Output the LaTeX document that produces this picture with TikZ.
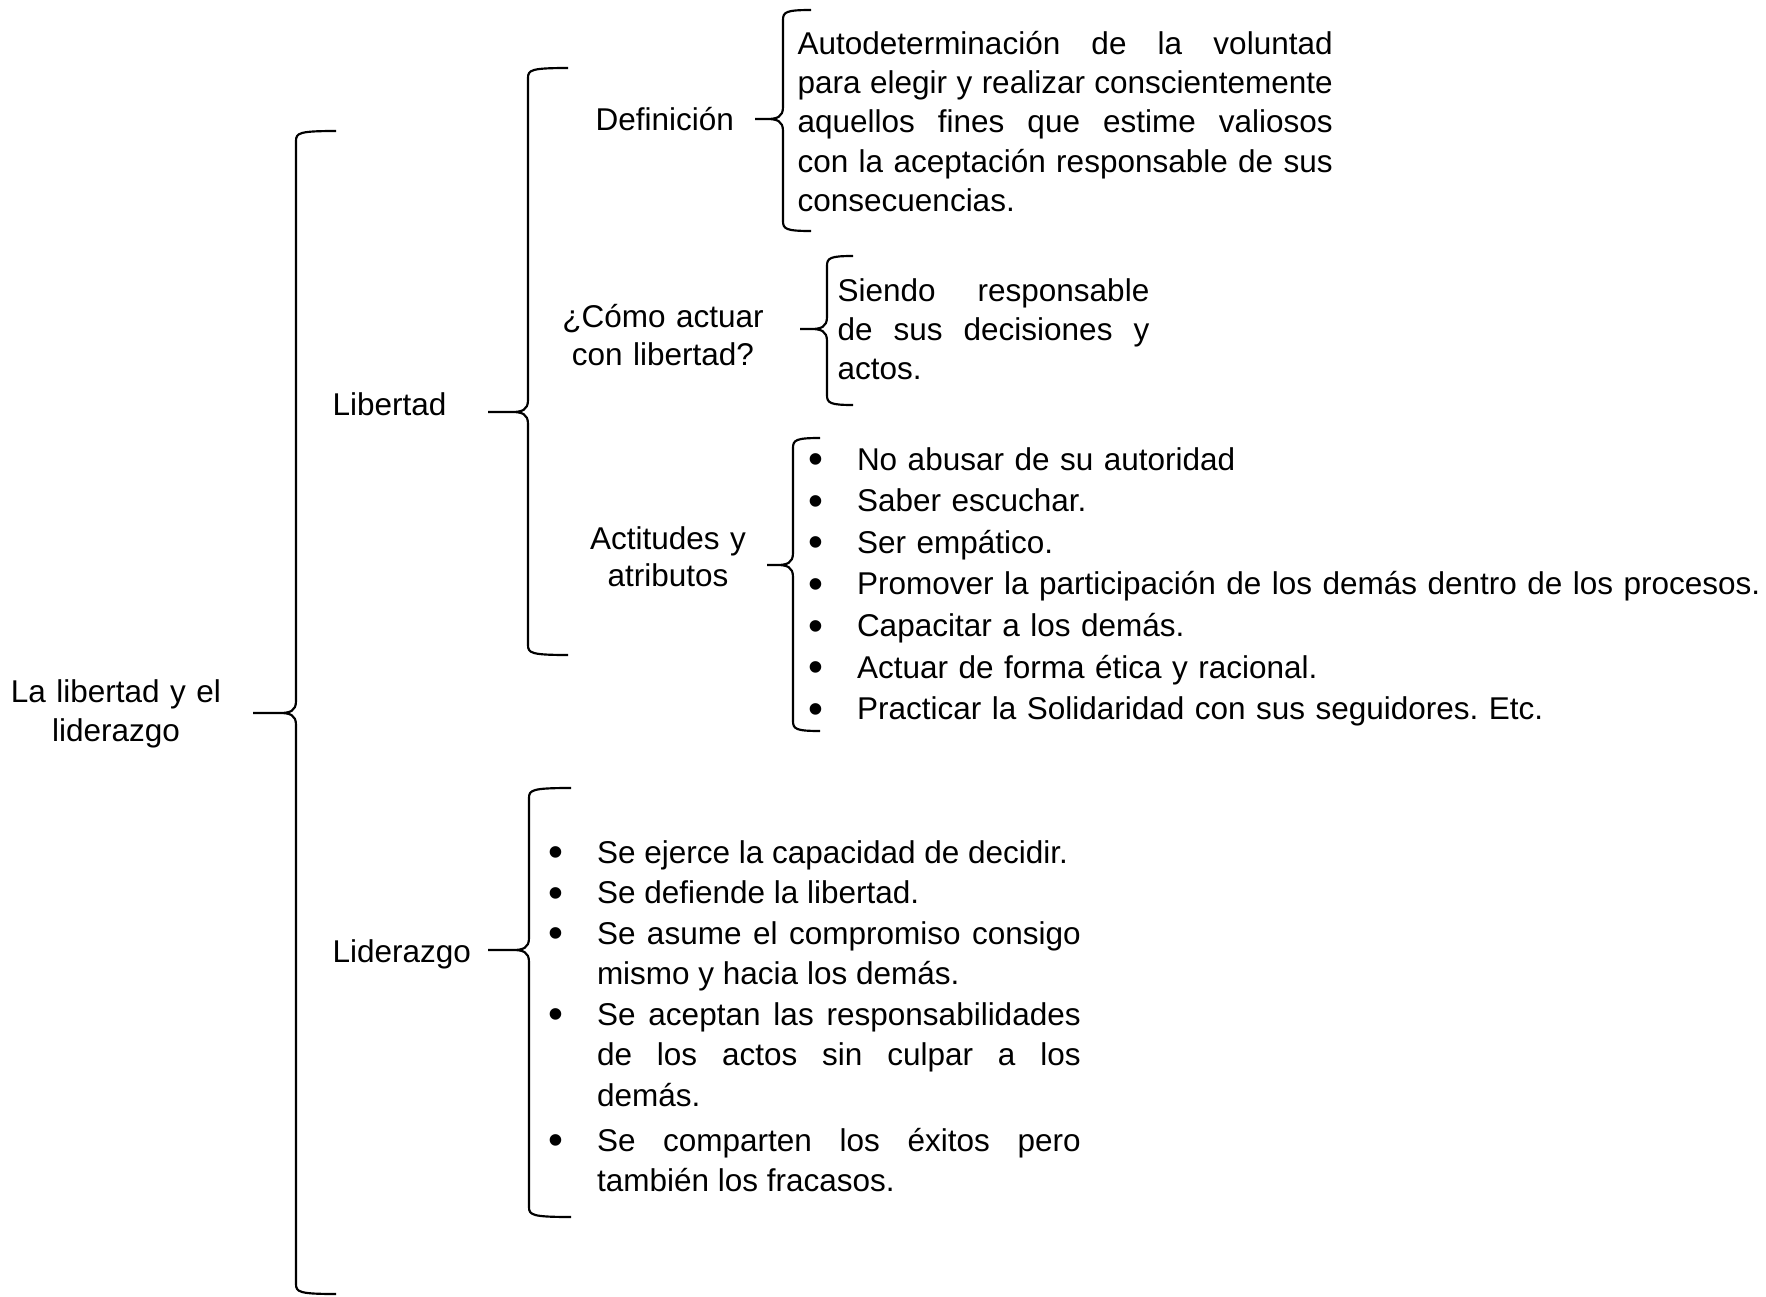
\documentclass[tikz,border=0pt]{standalone}
\usepackage{fontspec}
\setmainfont{Liberation Sans}
\usetikzlibrary{positioning}
\frenchspacing

\newcommand{\fz}[1]{\fontsize{9.45}{#1}\selectfont}
\newcommand{\pto}{\makebox[14.5pt][l]{\raisebox{-1.1pt}{\scalebox{1.35}{\textbullet}}}}
\newcommand{\vini}{\noindent\pto\hangindent=14.5pt\hangafter=1\relax}
\newcommand{\vin}{\par\vini}
\newcommand{\llave}[6]{%
	\draw[llave] (#1+#6,#2) .. controls (#1+3,#2) and (#1,#2+2) .. (#1,#2+10)
		-- (#1,#4-12) .. controls (#1,#4-2) and (#1-6,#4) .. (#1-16,#4) -- (#3,#4)
		-- (#1-16,#4) .. controls (#1-6,#4) and (#1,#4+2) .. (#1,#4+12)
		-- (#1,#5-10) .. controls (#1,#5-2) and (#1+3,#5) .. (#1+#6,#5);}

\begin{document}
\begin{tikzpicture}[x=0.3pt,y=-0.3pt,
	etiq/.style={inner sep=0pt,anchor=base west,font=\fz{11.7}},
	llave/.style={line width=0.65pt}]
	\useasboundingbox (0,0) rectangle (1766,1297);

	\node[etiq,anchor=base,text width=72pt,align=center] (raiz) at (116,702) {La libertad y el\\liderazgo};
	\node[etiq] (lib) at (332,415) {Libertad};
	\node[etiq] (lid) at (332,962) {Liderazgo};

	\node[etiq] (defi) at (595,130) {Definición};
	\node[etiq,text width=160.5pt,align=justify,font=\fz{11.85}] (defTxt) at (797,54)
		{Autodeterminación de la voluntad\linebreak para elegir y realizar conscientemente\linebreak aquellos fines que estime valiosos\linebreak con la aceptación responsable de sus\linebreak consecuencias.};

	\node[etiq,anchor=base,text width=70pt,align=center,font=\fz{11.4}] (como) at (663,327) {¿Cómo actuar\\con libertad?};
	\node[etiq,text width=93.5pt,align=justify,font=\fz{11.8}] (comoTxt) at (837,301)
		{Siendo responsable\linebreak de sus decisiones y\linebreak actos.};

	\node[etiq,anchor=base,text width=60pt,align=center,font=\fz{11.4}] (act) at (668,549) {Actitudes y\\atributos};
	\node[etiq,text width=290pt,align=left,font=\fz{12.5}] (actLst) at (808,470) {%
		\vini No abusar de su autoridad
		\vin Saber escuchar.
		\vin Ser empático.
		\vin Promover la participación de los demás dentro de los procesos.
		\vin Capacitar a los demás.
		\vin Actuar de forma ética y racional.
		\vin Practicar la Solidaridad con sus seguidores. Etc.\par};

	\node[etiq,text width=159.6pt,align=justify,font=\fz{12.15}] (lidLst) at (548,863) {%
		\vini Se ejerce la capacidad de decidir.
		\vin Se defiende la libertad.
		\vin Se asume el compromiso consigo\linebreak mismo y hacia los demás.
		\vin Se aceptan las responsabilidades\linebreak de los actos sin culpar a los\linebreak demás.
		\par\vspace{1.4pt}
		\vin Se comparten los éxitos pero\linebreak también los fracasos.\par};

	\llave{296}{131}{253}{713}{1294}{40}
	\llave{528}{68}{488}{412}{655}{40}
	\llave{783}{10}{755}{119}{231}{28}
	\llave{827}{256}{800}{329}{405}{26}
	\llave{793}{438}{767}{565}{731}{27}
	\llave{529}{788}{488}{950}{1217}{42}
\end{tikzpicture}
\end{document}
